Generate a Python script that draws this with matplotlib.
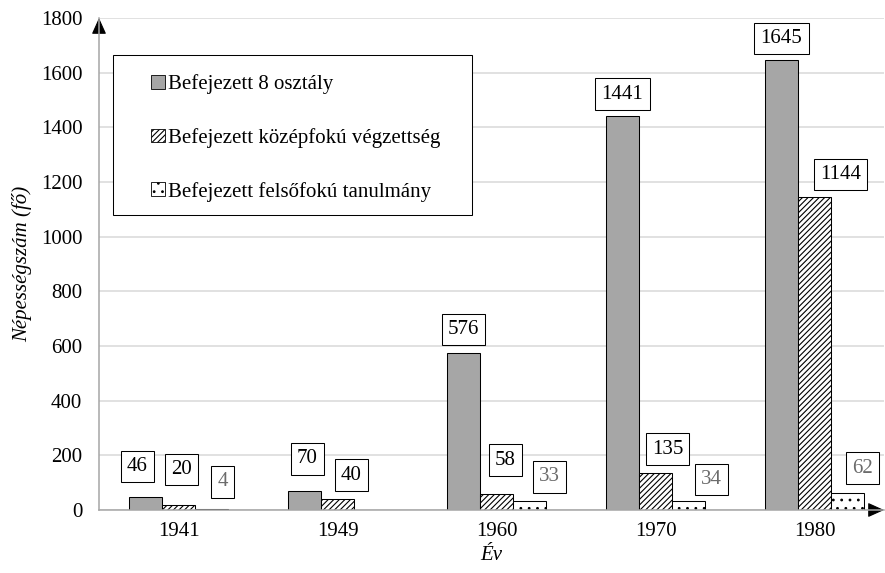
import matplotlib

matplotlib.use("Agg")

import matplotlib.pyplot as plt
import numpy as np
from matplotlib.patches import Patch, Rectangle

plt.rcParams["font.family"] = ["Liberation Serif", "DejaVu Serif"]
plt.rcParams["hatch.linewidth"] = 0.8

years = ["1941", "1949", "1960", "1970", "1980"]
basic_school = [46, 70, 576, 1441, 1645]
secondary_school = [20, 40, 58, 135, 1144]
higher_education = [4, None, 33, 34, 62]

series_names = [
    "Befejezett 8 osztály",
    "Befejezett középfokú végzettség",
    "Befejezett felsőfokú tanulmány",
]

# nudges for the value boxes, in pixels: (sideways, box centre above bar top)
basic_offsets = [(-8, 31), (3, 32), (0, 23), (0, 22), (0, 22)]
secondary_offsets = [(3, 35), (14, 24), (9, 34), (12, 24), (26, 23)]
higher_offsets = [(11, 27), None, (20, 24), (23, 21), (15, 25)]

FS = 15
W, H = 885, 573
fig = plt.figure(figsize=(W / 100, H / 100), dpi=100)
ax = fig.add_axes([99 / W, (H - 510) / H, (884 - 99) / W, 492 / H])

bar_w = 33 / 159
styles = [
    dict(facecolor="#A6A6A6", hatch=None),
    dict(facecolor="white", hatch="//////"),
    dict(facecolor="white", hatch=".."),
]
text_colors = ["black", "black", "#6b6b6b"]
all_series = [basic_school, secondary_school, higher_education]
all_offsets = [basic_offsets, secondary_offsets, higher_offsets]

x = np.arange(len(years))
for k, (values, offsets, style) in enumerate(zip(all_series, all_offsets, styles)):
    xs = x + (k - 1) * bar_w
    vals = np.array([np.nan if v is None else v for v in values], dtype=float)
    ax.bar(xs, vals, width=bar_w, edgecolor="black", linewidth=0.75, zorder=3, **style)
    for xi, v, off in zip(xs, values, offsets):
        if v is None:
            continue
        ax.annotate(
            str(v),
            xy=(xi, v),
            xytext=off,
            textcoords="offset pixels",
            ha="center",
            va="center",
            fontsize=FS,
            color=text_colors[k],
            bbox=dict(boxstyle="square,pad=0.3", facecolor="white", edgecolor="black", linewidth=0.75),
            zorder=5,
        )

ax.set_ylim(0, 1800)
ax.set_xlim(-0.5, -0.5 + 785 / 159)
ax.set_yticks(np.arange(0, 1801, 200))
ax.set_xticks(x)
ax.set_xticklabels(years)
ax.tick_params(axis="both", length=0, labelsize=FS)
ax.tick_params(axis="y", pad=12)
ax.tick_params(axis="x", pad=9)
ax.grid(axis="y", color="#D9D9D9", linewidth=1.1, zorder=0)
ax.set_axisbelow(True)

for side in ["top", "right"]:
    ax.spines[side].set_visible(False)
for side in ["left", "bottom"]:
    ax.spines[side].set_color("#A6A6A6")
    ax.spines[side].set_linewidth(1.1)
    ax.spines[side].set_zorder(4)

arrow = dict(arrowstyle="-|>,head_length=1.0,head_width=0.45", color="black", lw=0.8,
             shrinkA=0, shrinkB=0)
ax.annotate("", xy=(0, 1), xytext=(0, 0.98), xycoords="axes fraction",
            arrowprops=arrow, annotation_clip=False)
ax.annotate("", xy=(1, 0), xytext=(0.985, 0), xycoords="axes fraction",
            arrowprops=arrow, annotation_clip=False)

ax.set_ylabel("Népességszám (fő)", fontsize=FS, style="italic", labelpad=6)
ax.set_xlabel("Év", fontsize=FS, style="italic", labelpad=3)

# legend panel with its own white frame
fig.patches.append(
    Rectangle((113 / W, 1 - 215 / H), (472 - 113) / W, 160 / H, transform=fig.transFigure,
              facecolor="white", edgecolor="black", linewidth=0.75, zorder=4)
)
handles = [Patch(edgecolor="black", linewidth=0.6, **s) for s in styles]
fig.legend(
    handles,
    series_names,
    loc="upper left",
    bbox_to_anchor=(151 / W, 1 - 74 / H),
    frameon=False,
    fontsize=FS,
    borderpad=0,
    borderaxespad=0,
    handlelength=0.65,
    handleheight=0.65,
    handletextpad=0.15,
    labelspacing=1.63,
)

fig.savefig("out.png", dpi=100, facecolor="white")
